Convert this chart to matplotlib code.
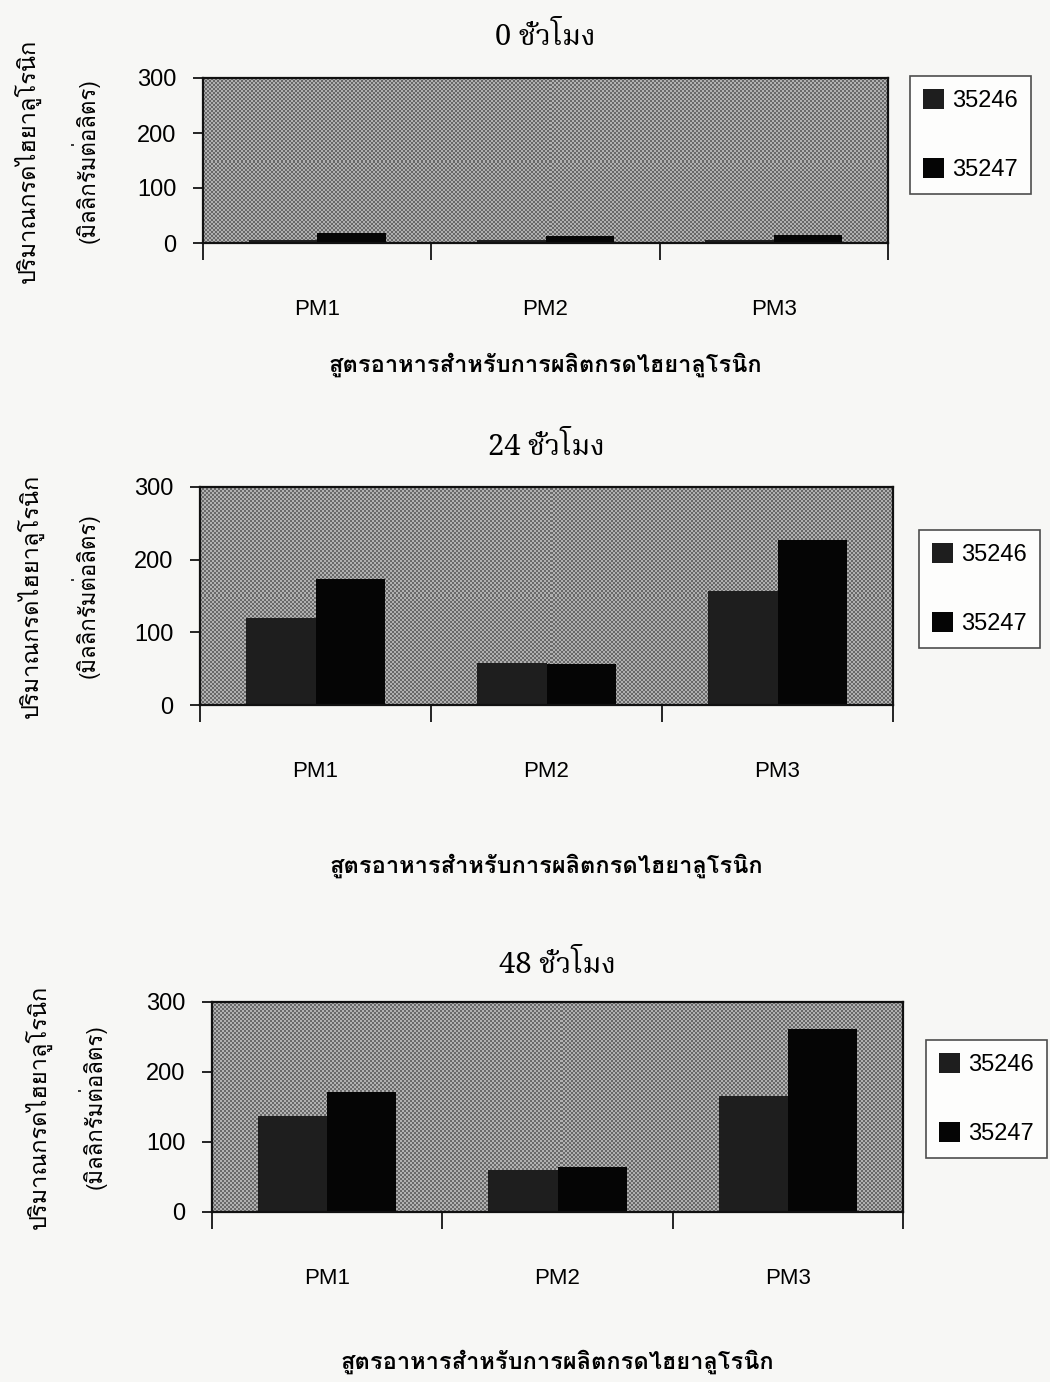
#!/usr/bin/env python3
"""
Hyaluronic acid yield of strains 35246 / 35247 on three media, at 0, 24 and 48 h
"""

import matplotlib
matplotlib.use('Agg')
import matplotlib.pyplot as plt
import numpy as np
from matplotlib import font_manager
from matplotlib.ft2font import FT2Font

# Data
media = ['PM1', 'PM2', 'PM3']
strains = ['35246', '35247']
hours = ['0 ชั่วโมง', '24 ชั่วโมง', '48 ชั่วโมง']
ha_0h = {'35246': [6, 5, 5], '35247': [18, 13, 14]}
ha_24h = {'35246': [120, 58, 157], '35247': [173, 56, 227]}
ha_48h = {'35246': [137, 60, 166], '35247': [171, 65, 262]}
yticks = [0, 100, 200, 300]

ylabel_1 = 'ปริมาณกรดไฮยาลูโรนิก'
ylabel_2 = '(มิลลิกรัมต่อลิตร)'
xlabel = 'สูตรอาหารสำหรับการผลิตกรดไฮยาลูโรนิก'


def find_thai_fonts():
    names = []
    for path in font_manager.findSystemFonts():
        try:
            cmap = FT2Font(path).get_charmap()
        except Exception:
            continue
        if 0x0E01 in cmap and 0x0E42 in cmap:
            try:
                font_manager.fontManager.addfont(path)
                name = font_manager.FontProperties(fname=path).get_name()
            except Exception:
                continue
            if name not in names:
                names.append(name)
    return names


def pick(found, wanted):
    return [w for w in wanted if w in found]


thai = find_thai_fonts()
proportional = [n for n in thai if 'Mono' not in n and 'Typo' not in n]
thai_sans = pick(thai, ['Garuda', 'Loma', 'Waree', 'Umpush', 'Noto Sans Thai',
                        'Noto Sans Thai Looped', 'FreeSans', 'Sawasdee'])
thai_serif = pick(thai, ['Laksaman', 'Norasi', 'Kinnari', 'Noto Serif Thai',
                         'FreeSerif'])
sans = thai_sans + proportional + ['Liberation Sans', 'DejaVu Sans']
serif = thai_serif + [n for n in proportional if 'Serif' in n] + proportional + \
    ['Liberation Serif', 'DejaVu Serif']
latin = ['Liberation Sans', 'DejaVu Sans']

plt.rcParams['font.family'] = sans

W, H = 1050, 1382
fig = plt.figure(figsize=(W / 100, H / 100), dpi=100)
fig.patch.set_facecolor('#f7f7f5')


def px_axes(left, top, right, bottom):
    return fig.add_axes([left / W, 1 - bottom / H, (right - left) / W, (bottom - top) / H])


panels = [
    dict(box=(203, 78, 888, 243), data=ha_0h, title=hours[0], tpad=24, xpad=24,
         leg=(910, 76), ylx=(27, 85)),
    dict(box=(200, 487, 893, 705), data=ha_24h, title=hours[1], tpad=23, xpad=52,
         leg=(919, 530), ylx=(30, 85)),
    dict(box=(212, 1002, 903, 1212), data=ha_48h, title=hours[2], tpad=21, xpad=44,
         leg=(926, 1040), ylx=(38, 92)),
]

colors = {'35246': '#1e1e1e', '35247': '#050505'}
x = np.arange(len(media))
bw = 0.3

for p in panels:
    ax = px_axes(*p['box'])

    # 50% gray fill pattern of the plot area
    l, t, r, b = p['box']
    ny, nx = (b - t) // 2, (r - l) // 2
    checker = (np.add.outer(np.arange(ny), np.arange(nx)) % 2).astype(float)
    ax.imshow(checker, cmap='gray', vmin=-1.5, vmax=2.1, extent=(0, 1, 0, 1),
              transform=ax.transAxes, aspect='auto', interpolation='nearest',
              zorder=0)

    for i, s in enumerate(strains):
        ax.bar(x + (i - 0.5) * bw, p['data'][s], width=bw, color=colors[s],
               label=s, zorder=2)

    ax.set_xlim(-0.5, len(media) - 0.5)
    ax.set_ylim(0, 300)
    ax.set_yticks(yticks)
    ax.set_yticklabels([str(v) for v in yticks], fontsize=17, family=latin)
    ax.tick_params(axis='y', direction='out', length=7, width=1.2, pad=12)

    # category boundaries get the tick marks, names sit in between
    ax.set_xticks(np.arange(len(media) + 1) - 0.5)
    ax.set_xticklabels([])
    ax.tick_params(axis='x', which='major', direction='out', length=12, width=1.2)
    ax.set_xticks(x, minor=True)
    ax.set_xticklabels(media, minor=True, fontsize=16, family=latin)
    ax.tick_params(axis='x', which='minor', length=0, pad=40)

    for sp in ax.spines.values():
        sp.set_linewidth(1.6)
        sp.set_color('#111111')

    ax.set_title(p['title'], fontsize=21, family=serif, fontweight='bold',
                 pad=p['tpad'])
    ax.set_xlabel(xlabel, fontsize=17, fontweight='bold', labelpad=p['xpad'])

    cy = 1 - (p['box'][1] + p['box'][3]) / 2 / H
    fig.text(p['ylx'][0] / W, cy, ylabel_1, rotation=90, ha='center', va='center',
             fontsize=17)
    fig.text(p['ylx'][1] / W, cy, ylabel_2, rotation=90, ha='center', va='center',
             fontsize=16)

    lx, ly = p['leg']
    leg = ax.legend(loc='upper left', bbox_to_anchor=(lx / W, 1 - ly / H),
                    bbox_transform=fig.transFigure, fontsize=17, frameon=True,
                    fancybox=False, edgecolor='#222222', borderpad=0.55,
                    labelspacing=1.95, handlelength=0.9, handleheight=0.9,
                    handletextpad=0.35, borderaxespad=0)
    leg.get_frame().set_linewidth(1.2)
    leg.get_frame().set_facecolor('white')
    for tx in leg.get_texts():
        tx.set_family(latin)

plt.savefig('out.png', dpi=100, facecolor=fig.get_facecolor())
plt.close()
